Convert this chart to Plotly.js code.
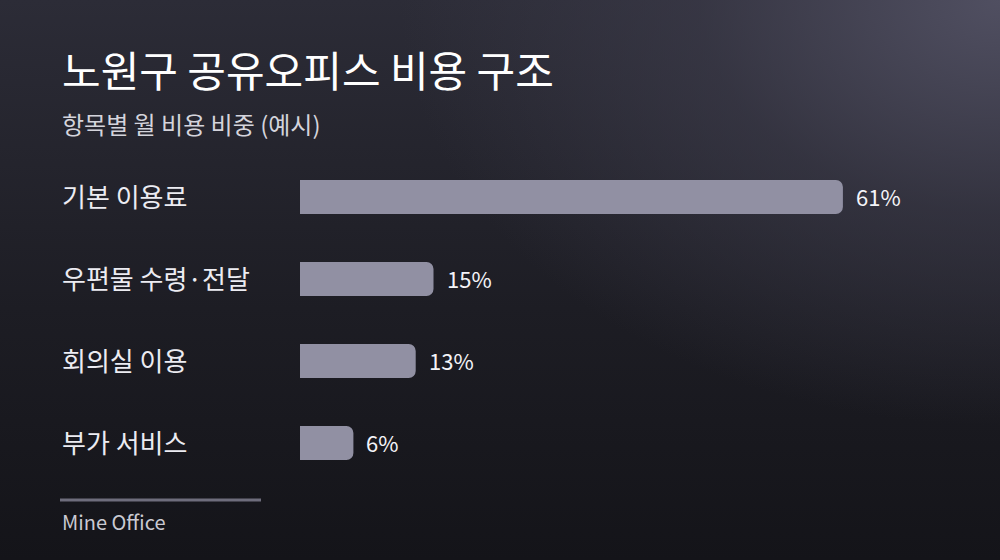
<!DOCTYPE html>
<html>
<head>
<meta charset="utf-8">
<script src="https://cdn.plot.ly/plotly-3.0.1.min.js"></script>
<style>
html,body{margin:0;padding:0;width:1000px;height:560px;overflow:hidden;}
body{
  background:
    radial-gradient(ellipse 75% 95% at 100% 0%, rgba(80,79,97,1) 0%, rgba(62,61,76,0.6) 40%, rgba(40,40,50,0) 80%),
    linear-gradient(to bottom, #2c2c37 0%, #1d1d24 55%, #141419 100%);
}
#chart{width:1000px;height:560px;}
</style>
</head>
<body>
<div id="chart"></div>
<script>
const titleText = "노원구 공유오피스 비용 구조";
const subtitleText = "항목별 월 비용 비중 (예시)";
const sourceText = "Mine Office";
const categories = ["기본 이용료", "우편물 수령·전달", "회의실 이용", "부가 서비스"];
const values = [61, 15, 13, 6];
const valueLabels = ["61%", "15%", "13%", "6%"];

const FONT = "Noto Sans CJK KR, Noto Sans, sans-serif";
const LATIN = "Noto Sans CJK KR, sans-serif";
const plotL = 300, plotR = 940, plotW = plotR - plotL;
const xMax = plotW / 8.9;

const trace = {
  type: "bar",
  orientation: "h",
  y: categories,
  x: values,
  marker: {color: "#9190a3", cornerradius: 7},
  width: 0.415,
  hoverinfo: "none"
};

const annotations = [];
categories.forEach((c, i) => {
  annotations.push({
    xref: "paper", yref: "y", x: (60 - plotL) / plotW, y: c,
    xanchor: "left", yanchor: "middle", yshift: 2,
    text: c, showarrow: false,
    font: {family: FONT, size: 26, color: "#ececf2"}
  });
  annotations.push({
    xref: "x", yref: "y", x: values[i], y: c,
    xanchor: "left", yanchor: "middle", xshift: 11, yshift: 1,
    text: valueLabels[i], showarrow: false,
    font: {family: FONT, size: 22, color: "#f4f4f8"}
  });
});

const plotT = 156, plotB = 484, plotH = plotB - plotT;
annotations.push({
  xref: "paper", yref: "paper", x: (60 - plotL) / plotW, y: 1, yanchor: "middle",
  xanchor: "left", text: titleText, showarrow: false, yshift: plotT - 68,
  font: {family: FONT, size: 42, color: "#ffffff"}
});
annotations.push({
  xref: "paper", yref: "paper", x: (60 - plotL) / plotW, y: 1, yanchor: "middle",
  xanchor: "left", text: subtitleText, showarrow: false, yshift: plotT - 123,
  font: {family: FONT, size: 24, color: "#d4d4dc"}
});
annotations.push({
  xref: "paper", yref: "paper", x: (60 - plotL) / plotW, y: 0, yanchor: "middle",
  xanchor: "left", text: sourceText, showarrow: false, yshift: plotB - 521,
  font: {family: LATIN, size: 20, color: "#cacad2"}
});

const layout = {
  width: 1000, height: 560,
  margin: {l: plotL, r: 1000 - plotR, t: plotT, b: 560 - plotB, pad: 0},
  paper_bgcolor: "rgba(0,0,0,0)",
  plot_bgcolor: "rgba(0,0,0,0)",
  showlegend: false,
  font: {family: FONT},
  xaxis: {range: [0, xMax], visible: false, fixedrange: true},
  yaxis: {autorange: "reversed", showticklabels: false, showgrid: false, zeroline: false, showline: false, ticks: "", fixedrange: true},
  annotations: annotations,
  shapes: [{
    type: "line", xref: "paper", yref: "paper",
    x0: (60 - plotL) / plotW, x1: (261 - plotL) / plotW,
    y0: -(500 - plotB) / plotH, y1: -(500 - plotB) / plotH,
    line: {color: "#6e6d7c", width: 3}
  }]
};

Plotly.newPlot("chart", [trace], layout, {staticPlot: true, displayModeBar: false});
</script>
</body>
</html>
